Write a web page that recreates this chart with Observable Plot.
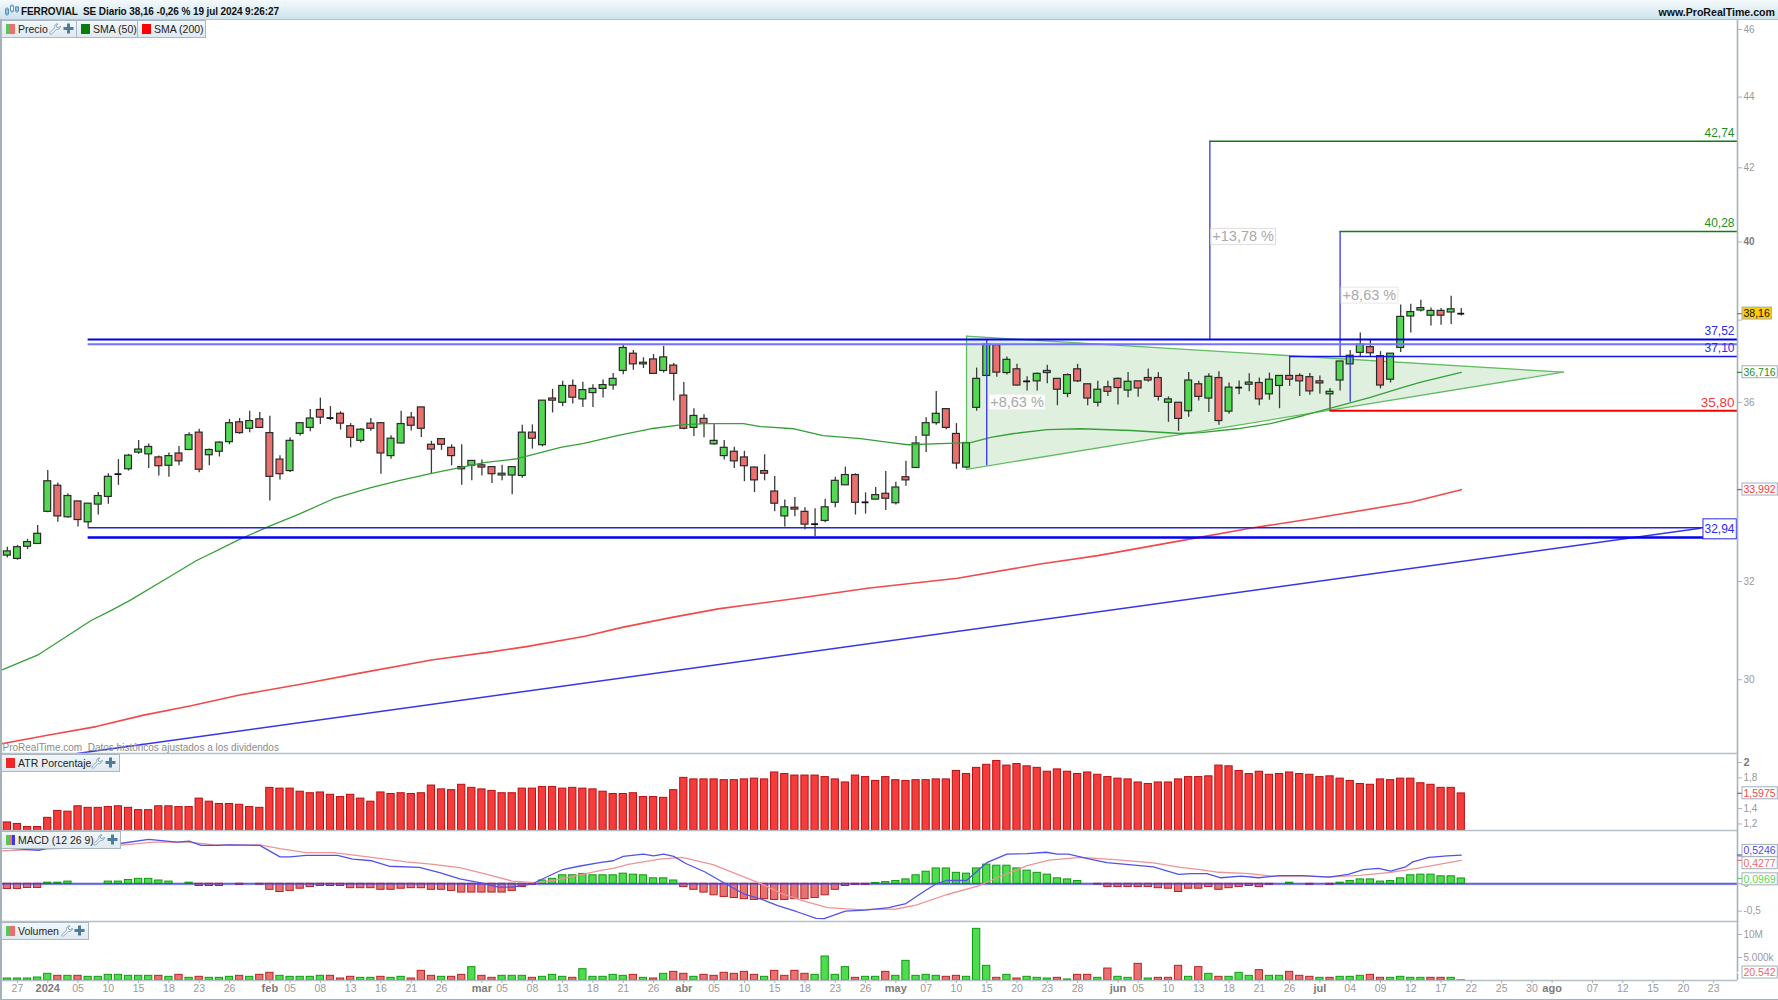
<!DOCTYPE html>
<html>
<head>
<meta charset="utf-8">
<script src="https://cdn.jsdelivr.net/npm/d3@7"></script>
<script src="https://cdn.jsdelivr.net/npm/@observablehq/plot@0.6"></script>
<style>
html,body{margin:0;padding:0;background:#fff;overflow:hidden;font-family:"Liberation Sans",Arial,sans-serif}
#chart{position:relative;width:1778px;height:1000px;background:#fff}
#chart svg{position:absolute;left:0;overflow:visible;background:transparent}
#head{position:absolute;left:0;top:0;width:1778px;height:19px;overflow:hidden;background:linear-gradient(#f4fafd,#cfe3ee);border-bottom:1px solid #b4c2cc;font-size:10px;font-weight:bold;color:#111;line-height:24px}
#head .t{position:absolute;left:21px;top:0;white-space:pre;letter-spacing:-.1px}
#head .u{position:absolute;right:3px;top:0;font-size:10.6px}
#head svg{left:4px;top:3px}
.tab{position:absolute;height:16px;background:linear-gradient(#f2f7fa,#dfe9ef);border:1px solid #a9b8c2;font-size:10.5px;color:#222;line-height:16px;white-space:nowrap;z-index:5;box-sizing:content-box}
.tab .sw{position:absolute;left:4px;top:3px;width:9px;height:10px}
.tab span.l{position:absolute;top:0}
.tab svg{position:absolute;top:2px}
.edge{position:absolute;background:#a3b1ba;z-index:4}
</style>
</head>
<body>
<div id="chart"></div>
<script>
// ---- candles (Ferrovial SE, daily, 22 Dec 2023 .. 19 Jul 2024)
const open = [32.55,32.48,32.74,32.80,33.50,34.08,33.38,33.73,33.27,33.66,
33.83,34.34,34.45,34.83,34.79,34.72,34.53,34.81,34.89,35.29,
34.77,34.85,35.07,35.53,35.38,35.60,35.28,34.67,34.41,35.26,
35.40,35.82,35.63,35.73,35.44,35.10,35.50,35.51,34.75,35.04,
35.64,35.88,35.01,35.14,34.94,34.50,34.53,34.54,34.50,34.31,
34.31,34.30,35.29,35.00,36.09,35.99,36.39,36.07,36.22,36.32,
36.40,36.75,37.17,36.91,37.03,36.75,36.88,36.16,35.40,35.61,
35.02,34.75,34.85,34.72,34.49,34.41,33.95,33.40,33.59,33.50,
33.23,33.30,33.70,34.09,34.32,33.71,33.77,33.90,33.69,34.27,
34.48,35.22,35.51,35.84,35.26,34.49,35.87,36.63,37.38,36.70,
36.79,36.50,36.50,36.75,36.56,36.20,36.79,36.43,35.99,36.36,
36.56,36.28,36.50,36.58,36.58,35.99,35.99,35.79,36.43,36.09,
36.58,35.78,36.35,36.42,36.46,36.19,36.39,36.63,36.63,36.60,
36.50,36.19,36.52,36.91,37.19,37.33,37.11,36.54,37.31,38.09,
38.24,38.11,38.23,38.19,38.16];
const high = [32.73,32.77,32.90,33.20,34.42,34.14,33.90,33.73,33.68,33.93,
34.35,34.67,34.79,35.11,35.03,34.75,34.82,34.97,35.29,35.37,
34.91,35.08,35.60,35.62,35.79,35.76,35.67,34.76,35.17,35.51,
35.83,36.10,35.90,35.78,35.50,35.38,35.62,35.51,35.22,35.79,
35.76,35.88,35.09,35.14,35.01,35.01,34.64,34.66,34.50,34.54,
34.50,35.46,35.47,36.04,36.31,36.50,36.53,36.48,36.42,36.53,
36.69,37.39,37.25,37.07,37.15,37.35,36.93,36.47,35.85,35.71,
35.48,35.11,34.95,34.86,34.50,34.78,34.29,33.76,33.82,33.59,
33.57,33.78,34.27,34.50,34.35,33.92,34.04,34.40,34.16,34.63,
35.20,35.64,36.26,35.84,35.50,35.05,36.82,37.41,37.38,37.09,
36.91,36.61,36.70,36.89,36.56,36.68,36.91,36.43,36.50,36.50,
36.58,36.71,36.50,36.80,36.71,36.13,35.99,36.71,36.50,36.68,
36.73,36.46,36.51,36.68,36.58,36.70,36.63,37.09,36.68,36.69,
36.63,36.33,36.98,37.25,37.68,37.51,37.22,37.17,38.38,38.40,
38.50,38.30,38.29,38.60,38.29];
const low = [32.50,32.45,32.68,32.80,33.48,33.27,33.36,33.17,33.16,33.43,
33.67,34.09,34.41,34.79,34.47,34.30,34.27,34.53,34.87,34.37,
34.53,34.73,35.01,35.25,35.29,35.39,33.74,34.21,34.38,35.21,
35.31,35.48,35.57,35.35,34.94,35.05,35.32,34.34,34.68,35.03,
35.33,35.18,34.34,34.88,34.53,34.09,34.19,34.30,34.13,34.19,
33.88,34.25,34.91,34.96,35.75,35.90,35.96,35.88,35.88,36.10,
36.29,36.66,36.77,36.81,36.68,36.70,36.03,35.36,35.20,35.17,
35.00,34.66,34.47,34.17,33.93,34.19,33.50,33.17,33.39,33.11,
32.96,33.26,33.59,34.09,33.43,33.45,33.76,33.53,33.65,34.07,
34.47,34.83,35.46,35.36,34.45,34.47,35.79,36.63,36.60,36.65,
36.39,36.27,36.27,36.44,35.92,36.11,36.47,35.92,35.89,36.14,
35.94,36.11,36.12,36.48,36.03,35.53,35.32,35.65,36.03,35.76,
35.46,35.72,36.18,36.25,35.92,36.05,35.85,36.38,36.14,36.17,
36.19,35.81,36.27,36.91,37.10,37.10,36.32,36.46,37.20,37.68,
38.20,37.85,37.87,37.89,38.10];
const close = [32.64,32.73,32.84,33.02,34.18,33.40,33.85,33.32,33.68,33.85,
34.28,34.34,34.76,34.90,34.96,34.52,34.75,34.63,35.23,34.44,
34.89,35.06,35.51,35.28,35.56,35.40,34.28,34.34,35.10,35.51,
35.62,35.64,35.63,35.50,35.17,35.36,35.38,34.81,35.15,35.49,
35.45,35.38,34.90,35.01,34.75,34.45,34.64,34.49,34.34,34.35,
34.50,35.29,35.15,36.04,36.04,36.39,36.11,36.29,36.32,36.41,
36.56,37.31,36.91,36.95,36.68,37.08,36.68,35.38,35.68,35.50,
35.10,34.94,34.63,34.52,34.20,34.35,33.68,33.60,33.55,33.22,
33.23,33.60,34.19,34.32,33.70,33.71,33.87,33.79,34.04,34.20,
35.04,35.51,35.73,35.40,34.58,35.05,36.56,37.39,36.71,37.02,
36.40,36.50,36.68,36.70,36.30,36.65,36.50,36.09,36.30,36.25,
36.34,36.49,36.33,36.52,36.13,36.07,35.61,36.52,36.13,36.61,
35.56,36.35,36.35,36.47,36.07,36.54,36.63,36.54,36.50,36.26,
36.45,36.25,36.98,37.12,37.39,37.18,36.40,37.17,38.08,38.20,
38.30,38.23,38.11,38.27,38.16];

// ---- moving averages: bar position / price pairs
const sma50Bar = [-0.7,3.1,8.3,10.2,12.1,15.9,18.7,23.1,25.8,29,32.3,36,38.9,41.9,47.2,50.5,54.8,57.1,60.4,63.7,66.7,69.3,72.9,74.6,77.9,80.8,84.5,87.5,89.2,93.1,95.4,97.4,99.7,103,106.3,111.3,116.2,118.2,121.8,125.1,128.4,131.8,135,138.3,140,144];
const sma50Val = [30.18,30.50,31.19,31.39,31.60,32.08,32.44,32.91,33.17,33.46,33.79,34.04,34.20,34.35,34.60,34.69,34.95,35.04,35.22,35.38,35.47,35.50,35.50,35.43,35.38,35.22,35.15,35.06,35.01,35.04,35.06,35.18,35.27,35.36,35.38,35.34,35.27,35.29,35.38,35.50,35.69,35.91,36.12,36.36,36.48,36.716];
const sma200Bar = [-0.7,4.1,8.8,13.5,18.2,23,29.6,34.9,42,48.1,51.4,57.2,60.9,65.7,70.4,73.6,79,85.2,94.1,102.3,108,117.5,123.1,129.5,139,144];
const sma200Val = [28.76,28.93,29.09,29.31,29.49,29.70,29.93,30.13,30.39,30.56,30.66,30.87,31.05,31.25,31.43,31.52,31.67,31.86,32.07,32.37,32.55,32.92,33.14,33.36,33.71,33.992];

// ---- drawn objects on the price panel
const trendBar = [6.9,167.7];
const trendVal = [28.58,33.14];
const triangleBar = [95,154.1];
const triangleTop = [37.60,36.72];
const triangleLow = [34.45,36.72];
const levelVal = [37.52,37.40,33.15,32.94,37.10,42.74,40.28,35.80];
const levelFrom = [8,8,8,8,127,119.1,132,131];
const levelColor = ["#0000ee","#7272ff","#2222e6","#0000f0","#1414e6","#0f7d0f","#0f7d0f","#f40000"];
const levelWidth = [2,2,1.5,2.6,1.6,1.6,1.6,2];
const levelText = ["37,52","","","","37,10","42,74","40,28","35,80"];
const levelTextColor = ["#2a2af2","","","","#2a2af2","#1f8f1f","#1f8f1f","#f23a3a"];
const stemBar = [97,119.1,132,133];
const stemFrom = [37.52,37.52,37.10,37.10];
const stemTo = [34.53,42.74,40.28,36.00];
const pctBar = [100,122.4,134.9];
const pctVal = [36.0,40.14,38.62];
const pctText = ["+8,63 %","+13,78 %","+8,63 %"];

// ---- lower panels
const atr = [1.22,1.20,1.16,1.16,1.28,1.37,1.36,1.43,1.41,1.41,
1.42,1.43,1.41,1.38,1.38,1.43,1.43,1.42,1.42,1.53,
1.49,1.46,1.46,1.45,1.42,1.41,1.67,1.66,1.66,1.62,
1.60,1.61,1.58,1.55,1.58,1.53,1.49,1.61,1.59,1.60,
1.59,1.60,1.70,1.65,1.64,1.71,1.67,1.65,1.63,1.60,
1.60,1.66,1.66,1.68,1.68,1.66,1.67,1.66,1.65,1.62,
1.59,1.59,1.60,1.55,1.55,1.54,1.64,1.80,1.78,1.78,
1.78,1.77,1.77,1.78,1.79,1.78,1.87,1.85,1.83,1.83,
1.83,1.81,1.78,1.74,1.83,1.81,1.76,1.81,1.77,1.76,
1.77,1.77,1.78,1.78,1.89,1.85,1.93,1.97,2.02,1.96,
1.98,1.95,1.93,1.88,1.91,1.88,1.85,1.87,1.84,1.81,
1.79,1.78,1.74,1.72,1.74,1.74,1.78,1.81,1.81,1.82,
1.96,1.95,1.89,1.85,1.88,1.84,1.85,1.87,1.85,1.84,
1.81,1.82,1.79,1.76,1.72,1.71,1.78,1.77,1.79,1.79,
1.73,1.71,1.67,1.67,1.5975];
const hist = [-.094,-.094,-.076,-.076,.02,.02,.04,0,0,0,
.04,.04,.07,.09,.09,.06,.04,0,.02,-.04,
-.04,-.04,0,-.02,0,-.015,-.11,-.15,-.13,-.09,
-.06,-.04,-.04,-.04,-.08,-.08,-.08,-.11,-.11,-.09,
-.08,-.08,-.11,-.11,-.13,-.16,-.16,-.16,-.16,-.16,
-.13,-.06,-.02,.06,.09,.155,.155,.18,.155,.155,
.155,.185,.167,.155,.10,.10,.06,-.06,-.11,-.16,
-.21,-.24,-.26,-.28,-.295,-.28,-.295,-.295,-.28,-.28,
-.26,-.21,-.11,-.04,-.02,-.02,.015,.03,.05,.08,
.155,.22,.28,.28,.20,.185,.28,.35,.33,.33,
.28,.24,.20,.167,.10,.08,.05,0,-.015,-.06,
-.06,-.06,-.06,-.06,-.08,-.09,-.15,-.09,-.09,-.06,
-.11,-.08,-.06,-.04,-.06,-.02,0,.02,0,-.02,
0,-.02,.02,.05,.08,.08,.04,.05,.10,.155,
.167,.167,.137,.137,.0969];
const macdBar = [-0.7,3.1,4.2,11,14,16.8,18,19.2,20.9,22,25,27,28,29.6,32.7,34.2,36.1,37.8,40.8,42.9,44.8,46.9,48.6,50,52,55,56.6,58.8,60,61,63,64,65,66,67.2,69.1,71,73,74.8,76.3,78.2,80.1,80.9,83,85,87.3,89,90.7,92,93,95,97,99,101,102.9,104,105.1,107,108.9,110.8,113.5,116,117.3,118.8,120.2,122.2,123.9,126,128.3,130.9,132.8,134.3,135.8,137,138.5,139.2,140.8,142.6,144];
const macdVal = [.66,.61,.66,.73,.81,.76,.78,.70,.70,.71,.70,.49,.49,.52,.52,.45,.42,.32,.30,.20,.09,.015,-.06,-.06,0,.26,.32,.39,.42,.50,.54,.51,.54,.50,.37,.215,.015,-.19,-.29,-.40,-.51,-.63,-.635,-.50,-.48,-.435,-.36,-.15,0,.06,.06,.385,.54,.55,.575,.54,.54,.46,.385,.355,.31,.17,.185,.185,.11,.14,.11,.15,.15,.12,.17,.26,.28,.23,.31,.40,.48,.51,.5246];
const signalBar = [-0.7,5,11,14.5,17.9,20.5,25,27,29.6,32.3,35.7,39.5,42.2,44.8,47.5,50,52.2,54.3,58.8,60,61.5,64.6,66.8,69.9,74.8,76.7,79,81.25,84.3,88,90,93,96.2,98,101,103.2,106.3,109.7,113.5,116.2,118.1,120,123,125.3,128.3,130.9,134,137,139.6,144];
const signalVal = [.60,.64,.70,.76,.76,.71,.71,.64,.57,.57,.49,.40,.355,.295,.17,.05,.02,.065,.245,.28,.355,.45,.48,.35,-.01,-.18,-.32,-.435,-.47,-.46,-.39,-.20,-.04,.11,.33,.43,.48,.44,.38,.30,.26,.21,.185,.14,.14,.125,.155,.21,.28,.4277];
const volume = [435,435,435,650,1450,1015,1015,1015,800,800,
1230,1230,1015,1015,1015,1015,800,1230,580,800,
580,580,800,1015,800,1230,1670,1015,800,800,
800,1015,1015,435,800,580,580,800,580,800,
435,2100,1015,800,800,1230,2900,1015,580,1015,
1015,1015,580,800,1230,800,580,2460,800,800,
1230,1015,1230,580,435,1450,1880,1450,800,1230,
1015,1670,1450,1880,1230,800,2100,1015,2100,1450,
1230,5220,1230,2900,580,800,800,1880,1015,4270,
1015,1230,1015,800,1015,800,11230,3190,580,1230,
435,800,580,435,580,220,1230,1230,580,2600,
800,580,3620,435,580,580,3190,800,2900,1450,
800,800,1670,1015,2250,1015,1015,1880,1015,800,
580,580,800,800,1015,1230,580,580,800,580,
580,580,580,580,20.542];

// ---- axis labels
const dayTicks = [1,7,10,13,16,19,22,28,31,34,37,40,43,49,52,55,58,61,64,70,73,76,79,82,85,91,94,97,100,103,106,112,115,118,121,124,127,133,136,139,142,145,148,151,157,160,163,166,169];
const dayLabels = ["27","05","10","15","18","23","26","05","08","13","16","21","26","05","08","13","18","21","26","05","10","15","18","23","26","07","10","15","20","23","28","05","10","13","18","21","26","04","09","12","17","22","25","30","07","12","15","20","23"];
const monthTicks = [4,26,47,67,88,110,130,153];
const monthLabels = ["2024","feb","mar","abr","may","jun","jul","ago"];
const priceTicks = [30,32,36,42,44,46];
const priceTicksCovered = [34,38];   // their labels sit under the value tags
const atrTicks = [1.2,1.4,1.8];
const atrTicksCovered = [1.6];
const macdTicks = [-0.5,0];
const macdTicksCovered = [0.5];
const volTicks = [5000,10000];
const volTickLabels = ["5.000k","10M"];

// ---- layout constants for the four stacked panels
const xDomain = [-0.68,171.36];
const xMax = xDomain[1];
const W = 1778, MR = 41;
const font = '"Liberation Sans",Arial,sans-serif';
const GREEN = "#52d852", RED = "#ea7070";
const AXC = "#a6b3bc", TXT = "#9a9a9a";
const comma = d => String(d).replace(".",",");

const bars = open.map((o,i)=>({i,open:o,high:high[i],low:low[i],close:close[i],atr:atr[i],hist:hist[i],vol:volume[i],
  up:i===0?true:close[i]>=close[i-1]}));
const zip2 = (a,b)=>a.map((x,i)=>({x,y:b[i]}));
const candles = bars.filter(d=>d.open!==d.close);
const doji = bars.filter(d=>d.open===d.close);
const levels = levelVal.map((v,i)=>({v,from:levelFrom[i],color:levelColor[i],w:levelWidth[i],text:levelText[i],tc:levelTextColor[i]}));
const stems = stemBar.map((x,i)=>({x,a:stemFrom[i],b:stemTo[i]}));
const tri = triangleBar.map((x,i)=>({x,t:triangleTop[i],l:triangleLow[i]}));
const pct = pctBar.map((x,i)=>({x,y:pctVal[i],t:pctText[i]}));

function rightAxis(ticks,fmt,opts={}){
  return Plot.axisY(ticks,{anchor:"right",tickSize:4,tickPadding:2,label:null,tickFormat:fmt,stroke:AXC,fill:TXT,fontSize:10,...opts});
}
function tagMark(items){ // items: {y,text,color,tc,dy}
  return items.flatMap(it=>[
    Plot.ruleY([it],{y:"y",x1:()=>xMax,x2:()=>xMax+0.5,stroke:"color",strokeWidth:1.2}),
    Plot.text([it],{y:"y",x:()=>xMax,text:"text",fill:"tc",dx:6,dy:it.dy||0,textAnchor:"start",fontSize:10.5,fontFamily:font})
  ]);
}
function panel(top,height,marginBottom,yOpts,marks){
  const p = Plot.plot({width:W,height,marginLeft:0,marginRight:MR,marginTop:0,marginBottom,
    style:{background:"transparent",fontFamily:font,fontSize:"10px",overflow:"visible"},
    x:{type:"linear",domain:xDomain,axis:null},y:{axis:null,...yOpts},marks});
  p.style.top = top+"px";
  document.getElementById("chart").appendChild(p);
  return p;
}
const hw = 0.34;
const blank = () => "";

// PRICE
panel(20,733,0,{type:"log",domain:[28.58,46.27]},[
  Plot.areaY(tri,{x:"x",y1:"l",y2:"t",fill:"#dff0df"}),
  Plot.lineY(tri,{x:"x",y:"t",stroke:"#62bc62",strokeWidth:1.3}),
  Plot.lineY(tri,{x:"x",y:"l",stroke:"#62bc62",strokeWidth:1.3}),
  Plot.ruleX([triangleBar[0]],{y1:triangleTop[0],y2:triangleLow[0],stroke:"#62bc62",strokeWidth:1.3}),
  Plot.ruleX(bars,{x:"i",y1:"low",y2:"high",stroke:"#3c3c3c",strokeWidth:1.3}),
  Plot.rect(candles,{x1:d=>d.i-hw,x2:d=>d.i+hw,y1:"open",y2:"close",fill:d=>d.close>d.open?GREEN:RED,stroke:"#2a2a2a",strokeWidth:1.2}),
  Plot.ruleY(doji,{x1:d=>d.i-hw,x2:d=>d.i+hw,y:"close",stroke:"#111",strokeWidth:1.8}),
  Plot.lineY(zip2(sma50Bar,sma50Val),{x:"x",y:"y",stroke:"#35a035",strokeWidth:1.3,clip:true}),
  Plot.lineY(zip2(sma200Bar,sma200Val),{x:"x",y:"y",stroke:"#f24a4a",strokeWidth:1.6,clip:true}),
  Plot.lineY(zip2(trendBar,trendVal),{x:"x",y:"y",stroke:"#3535ea",strokeWidth:1.4}),
  Plot.ruleX(stems,{x:"x",y1:"a",y2:"b",stroke:"#3434ee",strokeWidth:1.3}),
  Plot.ruleY(levels,{y:"v",x1:"from",x2:()=>xMax,stroke:"color",strokeWidth:"w"}),
  Plot.text(levels.filter(d=>d.text),{y:"v",x:()=>xMax,text:"text",fill:"tc",dx:-3,dy:-8,textAnchor:"end",fontSize:d=>d.text==="35,80"?13.5:12,fontFamily:font}),
  Plot.text([{y:32.94,x:xMax,t:"32,94"}],{y:"y",x:"x",text:"t",fill:"#2a2af2",dx:-3,dy:-8.5,textAnchor:"end",fontSize:12,fontFamily:font}),
  Plot.text(pct,{x:"x",y:"y",text:"t",fill:"#aaaaaa",fontSize:14.5,fontFamily:font}),
  Plot.text(["ProRealTime.com  Datos históricos ajustados a los dividendos"],{x:()=>xDomain[0],y:()=>28.63,text:d=>d,dx:2,textAnchor:"start",fill:"#8c8c8c",fontSize:10,fontFamily:font,lineAnchor:"bottom"}),
  Plot.ruleX([xMax],{stroke:AXC,strokeWidth:1.6}),
  rightAxis(priceTicks,d=>String(d)),
  rightAxis(priceTicksCovered,blank),
  rightAxis([40],d=>String(d),{fontWeight:"bold",fill:"#7c7c7c"}),
  ...tagMark([
    {y:38.16,text:"38,16",color:"#777",tc:"#111"},
    {y:36.716,text:"36,716",color:"#2a922a",tc:"#1f8f1f"},
    {y:33.992,text:"33,992",color:"#f23a3a",tc:"#f23a3a"}
  ])
]);

// ATR
panel(753,77,0,{domain:[1.115,2.117]},[
  Plot.rect(bars,{x1:d=>d.i-0.36,x2:d=>d.i+0.36,y1:()=>1.115,y2:"atr",fill:"#f43c3c",stroke:"#b81010",strokeWidth:1}),
  Plot.ruleX([xMax],{stroke:AXC,strokeWidth:1.6}),
  Plot.ruleY([2.117],{stroke:"#b4bfc6",strokeWidth:1.6}),
  Plot.ruleY([1.115],{stroke:"#b4bfc6",strokeWidth:1.6}),
  rightAxis(atrTicks,comma),
  rightAxis(atrTicksCovered,blank),
  rightAxis([2],d=>String(d),{fontWeight:"bold",fill:"#7c7c7c",fontSize:11}),
  ...tagMark([{y:1.5975,text:"1,5975",color:"#f24a4a",tc:"#f24a4a"}])
]);

// MACD
panel(830,91,0,{domain:[-0.688,0.972]},[
  Plot.ruleY([0],{stroke:"#c8c8f4",strokeWidth:3}),
  Plot.rect(bars.filter(d=>d.hist!==0),{x1:d=>d.i-0.36,x2:d=>d.i+0.36,y1:()=>0,y2:"hist",fill:d=>d.hist>0?"#4fdc4f":"#e87272",stroke:d=>d.hist>0?"#109a10":"#b82222",strokeWidth:1}),
  Plot.ruleY([0],{stroke:"#3a3ae4",strokeWidth:1.2}),
  Plot.lineY(zip2(signalBar,signalVal),{x:"x",y:"y",stroke:"#ee9494",strokeWidth:1.3,clip:true}),
  Plot.lineY(zip2(macdBar,macdVal),{x:"x",y:"y",stroke:"#5252ea",strokeWidth:1.3,clip:true}),
  Plot.ruleX([xMax],{stroke:AXC,strokeWidth:1.6}),
  Plot.ruleY([-0.688],{stroke:"#b4bfc6",strokeWidth:1.6}),
  rightAxis(macdTicks,comma),
  rightAxis(macdTicksCovered,blank),
  ...tagMark([
    {y:0.5246,text:"0,5246",color:"#4a4af0",tc:"#4a4af0",dy:-4},
    {y:0.4277,text:"0,4277",color:"#f06a6a",tc:"#f06a6a",dy:3},
    {y:0.0969,text:"0,0969",color:"#58d858",tc:"#58d858",dy:1}
  ])
]);

// VOLUME + time axis
panel(921,79,20,{domain:[0,12826]},[
  Plot.rect(bars,{x1:d=>d.i-0.36,x2:d=>d.i+0.36,y1:()=>0,y2:"vol",fill:d=>d.up?"#4fdc4f":"#e87272",stroke:d=>d.up?"#109a10":"#b82222",strokeWidth:1}),
  Plot.ruleX([xMax],{stroke:AXC,strokeWidth:1.6}),
  Plot.ruleY([0],{stroke:"#b4bfc6",strokeWidth:1.6}),
  rightAxis(volTicks,d=>volTickLabels[volTicks.indexOf(d)]),
  ...tagMark([{y:1700,text:"20.542",color:"#fff",tc:"#f06a6a"}]),
  Plot.axisX(dayTicks,{anchor:"bottom",tickSize:3,tickPadding:1,label:null,stroke:AXC,fill:TXT,fontSize:10.5,tickFormat:d=>dayLabels[dayTicks.indexOf(d)]}),
  Plot.axisX(monthTicks,{anchor:"bottom",tickSize:3,tickPadding:1,label:null,stroke:AXC,fill:"#7c7c7c",fontWeight:"bold",fontSize:11,tickFormat:d=>monthLabels[monthTicks.indexOf(d)]})
]);

// boxes behind the value tags
const tagStyles = new Map([
  ["38,16",{fill:"#ffcc00",stroke:"#a3afb7"}],
  ["36,716",{fill:"#fff",stroke:"#a3afb7"}],
  ["33,992",{fill:"#fff",stroke:"#a3afb7"}],
  ["1,5975",{fill:"#fff",stroke:"#a3afb7"}],
  ["0,5246",{fill:"#fff",stroke:"#a3afb7"}],
  ["0,4277",{fill:"#fff",stroke:"#a3afb7"}],
  ["0,0969",{fill:"#fff",stroke:"#a3afb7"}],
  ["20.542",{fill:"#fff",stroke:"#a3afb7"}],
  ["32,94",{fill:"#fff",stroke:"#2a2af2",py:3}],
  ["+8,63 %",{fill:"#ffffff",stroke:"#e6e6e6",opacity:.85}],
  ["+13,78 %",{fill:"#ffffff",stroke:"#dddddd",opacity:.85}]
]);
document.querySelectorAll("#chart svg text").forEach(t=>{
  const s = tagStyles.get(t.textContent.trim());
  if(!s) return;
  const b = t.getBBox();
  const r = document.createElementNS("http://www.w3.org/2000/svg","rect");
  const px = 1.5, py = s.py||0;
  r.setAttribute("x",b.x-px); r.setAttribute("y",b.y-py);
  r.setAttribute("width",b.width+2*px); r.setAttribute("height",b.height+2*py);
  r.setAttribute("fill",s.fill); r.setAttribute("stroke",s.stroke); r.setAttribute("stroke-width",1);
  if(s.opacity) r.setAttribute("fill-opacity",s.opacity);
  if(t.getAttribute("transform")) r.setAttribute("transform",t.getAttribute("transform"));
  t.parentNode.insertBefore(r,t);
});

// header and legend tabs
const wrench = (x,c="#7fa3bd")=>`<svg width="12" height="12" viewBox="0 0 12 12" style="left:${x}px"><path d="M8.6 .8a3 3 0 0 0-2.8 4L1 9.6a1.1 1.1 0 0 0 1.5 1.5l4.8-4.8a3 3 0 0 0 4-3.2L9.6 4.8 7.7 4.3 7.2 2.4 9 .9z" fill="#fff" stroke="${c}" stroke-width="1"/></svg>`;
const plus = (x)=>`<svg width="11" height="11" viewBox="0 0 11 11" style="left:${x}px"><path d="M4 .5h3v3.5h3.5v3H7v3.5H4V7H.5V4H4z" fill="#4d7d9c"/></svg>`;
const chart = document.getElementById("chart");
const add = (html)=>{const d=document.createElement("div");d.innerHTML=html;while(d.firstChild)chart.appendChild(d.firstChild);};
add(`<div id="head"><svg width="16" height="14" viewBox="0 0 16 14"><path d="M3 4v9M8 1v9M13 3v7" stroke="#6aa0d0"/><rect x="1.5" y="6" width="3" height="5" fill="#9cc4e6" stroke="#5a90c0"/><rect x="6.5" y="3" width="3" height="5" fill="#fff" stroke="#5a90c0"/><rect x="11.5" y="4" width="3" height="4" fill="#9cc4e6" stroke="#5a90c0"/></svg><span class="t">FERROVIAL  SE Diario 38,16 -0,26 % 19 jul 2024 9:26:27</span><span class="u">www.ProRealTime.com</span></div>`);
const split = `background:linear-gradient(90deg,#55c855 50%,#ea7070 50%)`;
add(`<div class="tab" style="left:1px;top:20px;width:74px"><div class="sw" style="${split}"></div><span class="l" style="left:16px">Precio</span>${wrench(47)}${plus(61)}</div>`);
add(`<div class="tab" style="left:76px;top:20px;width:60px"><div class="sw" style="background:#0a7d0a"></div><span class="l" style="left:16px">SMA (50)</span></div>`);
add(`<div class="tab" style="left:137px;top:20px;width:67px"><div class="sw" style="background:#ff0000"></div><span class="l" style="left:16px">SMA (200)</span></div>`);
add(`<div class="tab" style="left:1px;top:754px;width:117px"><div class="sw" style="background:#ee2828"></div><span class="l" style="left:16px">ATR Porcentaje</span>${wrench(89)}${plus(103)}</div>`);
add(`<div class="tab" style="left:1px;top:831px;width:118px"><div class="sw" style="background:linear-gradient(90deg,#55c855 33%,#ea7070 33%,#ea7070 66%,#3a3ae4 66%)"></div><span class="l" style="left:16px">MACD (12 26 9)</span>${wrench(91)}${plus(105)}</div>`);
add(`<div class="tab" style="left:1px;top:922px;width:86px"><div class="sw" style="${split}"></div><span class="l" style="left:16px">Volumen</span>${wrench(59)}${plus(72)}</div>`);
add(`<div class="edge" style="left:0;top:19px;width:1.5px;height:981px"></div><div class="edge" style="left:0;top:998.5px;width:1778px;height:1.5px"></div>`);
</script>
</body>
</html>
